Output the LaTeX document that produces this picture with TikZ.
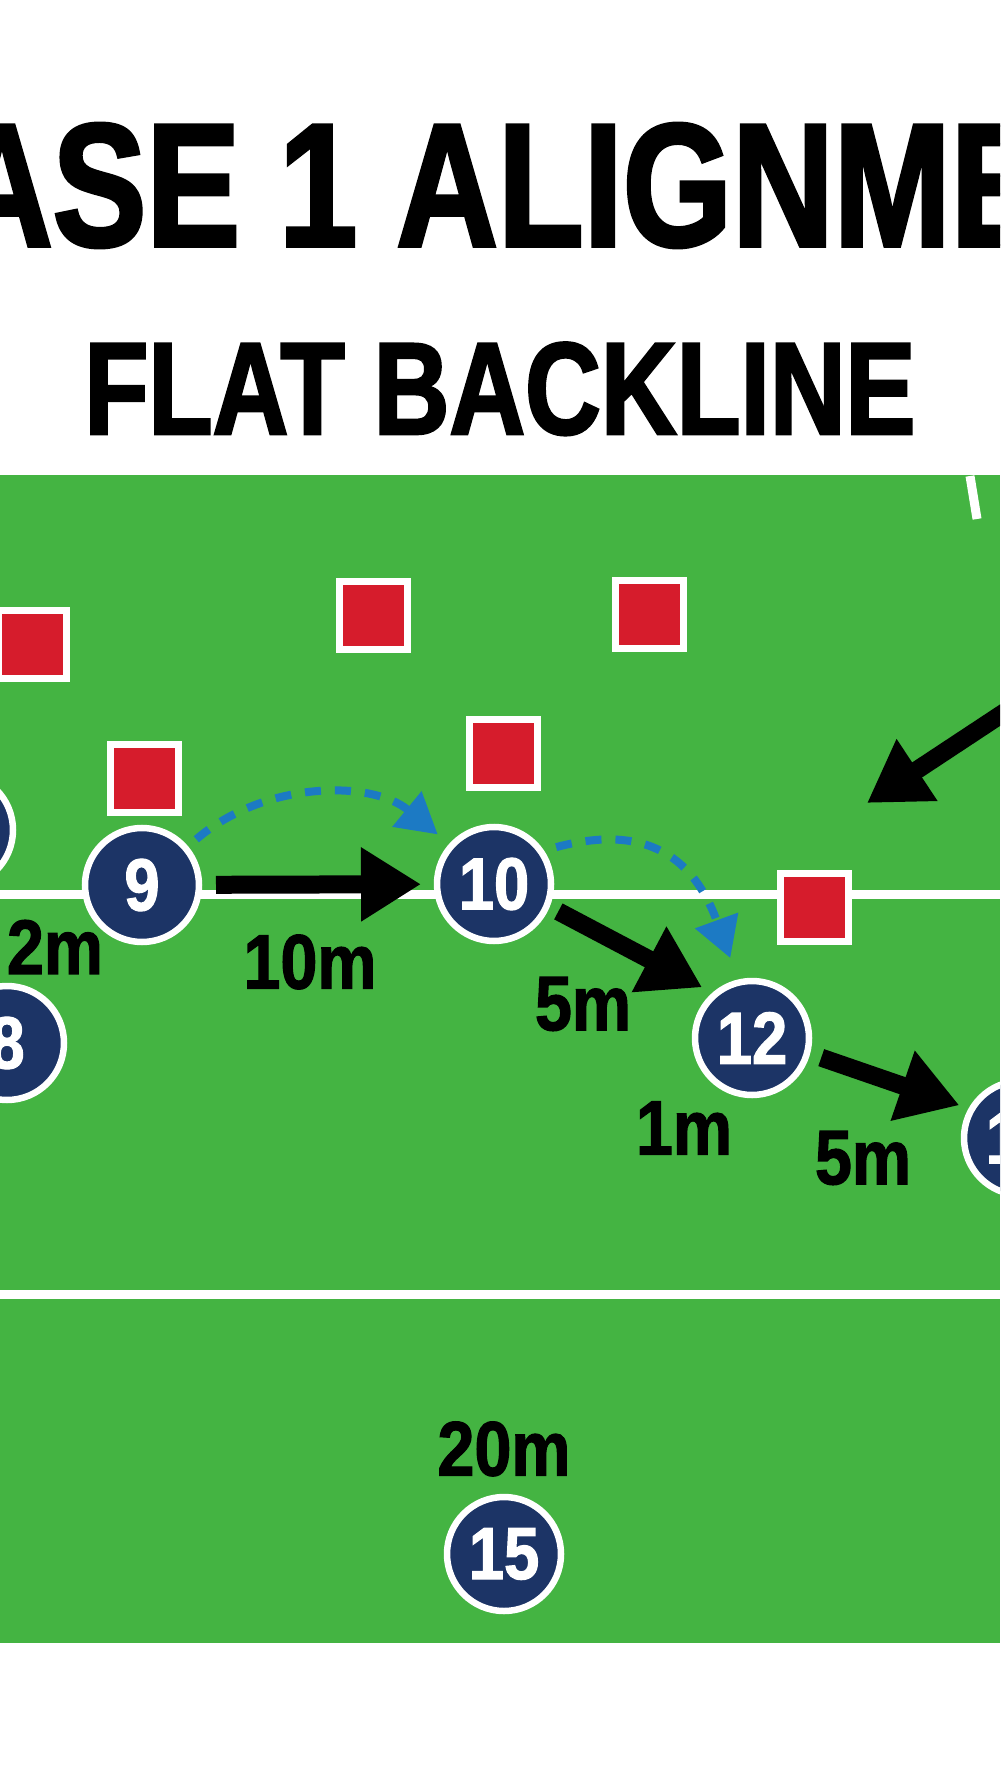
\documentclass[tikz,border=0pt]{standalone}
\usepackage{fontspec}
\usepackage{tikz}
\usetikzlibrary{arrows.meta,positioning}
\newfontfamily\titlefont[FakeStretch=0.8,BoldFeatures={FakeBold=2}]{Liberation Sans}
\newfontfamily\markfont[FakeStretch=0.86,BoldFeatures={FakeBold=1.5}]{Liberation Sans}
\definecolor{pitch}{RGB}{68,180,66}
\definecolor{navy}{RGB}{28,52,102}
\definecolor{oppred}{RGB}{214,28,44}
\definecolor{passblue}{RGB}{28,122,196}

\begin{document}
\begin{tikzpicture}[x=0.1mm,y=0.1mm]

        \tikzstyle{player} = [circle, draw=white, line width=0.65mm, fill=navy, minimum size=11.4mm, inner sep=0pt, outer sep=0pt, text=white, font=\markfont\bfseries\fontsize{21}{21}\selectfont];
        \tikzstyle{defender} = [rectangle, draw=white, line width=0.7mm, fill=oppred, minimum size=6.8mm, inner sep=0pt];
        \tikzstyle{dist} = [inner sep=0pt, font=\markfont\bfseries\fontsize{22}{22}\selectfont];
        \tikzstyle{run} = [draw, line width=1.8mm, -{Triangle[length=6mm,width=7mm]}];
        \tikzstyle{pass} = [draw=passblue, line width=0.8mm, dash pattern=on 1.6mm off 1.4mm, -{Triangle[length=4mm,width=4.4mm]}];
        \tikzstyle{marking} = [draw=white, line width=0.9mm];

        \path[use as bounding box, fill=white] (0,0) rectangle (1000,-1792);
        \clip (0,0) rectangle (1000,-1792);

        \node[anchor=base, font=\titlefont\bfseries\fontsize{50}{50}\selectfont] (title) at (494,-246) {PHASE 1 ALIGNMENT};
        \node[anchor=base, font=\titlefont\bfseries\fontsize{37.3}{37.3}\selectfont] (subtitle) at (500,-434) {FLAT BACKLINE};

        \fill[pitch] (0,-475) rectangle (1000,-1643);
        \draw[marking] (0,-894) -- (1000,-894);
        \draw[marking] (0,-1294) -- (1000,-1294);
        \draw[marking] (970,-476) -- (977,-519);

        \node[defender] (d1) at (32,-645) {};
        \node[defender] (d2) at (373,-616) {};
        \node[defender] (d3) at (649,-615) {};
        \node[defender] (d4) at (144,-778) {};
        \node[defender] (d5) at (503,-753) {};
        \node[defender] (d6) at (814,-907) {};

        \node[player] (p7) at (-44,-830) {};
        \node[player] (p8) at (7,-1043) {8};
        \node[player] (p9) at (142,-885) {9};
        \node[player] (p10) at (494,-884) {10};
        \node[player] (p12) at (752,-1038) {12};
        \node[player] (p13) at (1021,-1138) {13};
        \node[player] (p15) at (504,-1554) {15};

        \coordinate (kickfrom) at (1120,-636);
        \coordinate (kickto) at (867,-803);
        \path[run]
            (p9) edge[shorten <=1.7mm, shorten >=1.6mm] (p10)
            (p10.-22) edge[shorten <=1.3mm, shorten >=1.5mm] (p12.130)
            (p12.-15) edge[shorten <=1.5mm, shorten >=1.3mm] (p13.150)
            (kickfrom) edge (kickto);
        \draw[pass, shorten <=1.4mm, shorten >=1.8mm] (p9.40) to[bend left=40] (p10.138);
        \draw[pass, shorten <=1.6mm, shorten >=2.6mm] (p10.35) to[out=15, in=110, looseness=1.3] (p12.103);

        \node[dist] (m2) at (55,-947) {2m};
        \node[dist] (m10) at (310,-962) {10m};
        \node[dist] (m5a) at (583,-1004) {5m};
        \node[dist] (m1) at (684,-1128) {1m};
        \node[dist] (m5b) at (863,-1158) {5m};
        \node[dist] (m20) [above=2mm of p15] {20m};

    \end{tikzpicture}
\end{document}
